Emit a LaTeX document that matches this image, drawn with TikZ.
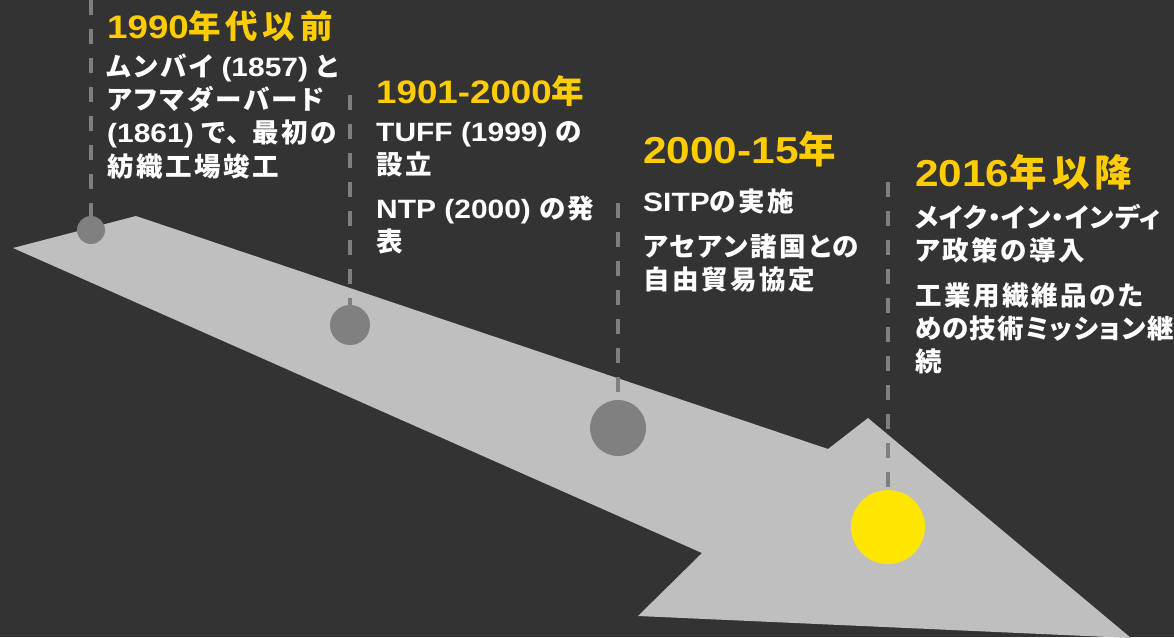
\documentclass[tikz,border=0pt]{standalone}
\usepackage{fontspec}
\newfontfamily\jpfont{Noto Sans CJK JP}[RawFeature=+palt, LetterSpace=9.5]
\newfontfamily\latfont{Liberation Sans}[FakeStretch=1.13]
\newcommand\LatRun[1]{{\latfont#1}}
\newcommand\FullW[1]{{\addfontfeature{RawFeature=-palt}#1}}
\newcommand\Tight[2]{{\addfontfeature{LetterSpace=#1}#2}}
\definecolor{bgc}{HTML}{333333}
\definecolor{arrowc}{HTML}{BFBFBF}
\definecolor{dotgray}{HTML}{808080}
\definecolor{dotyellow}{HTML}{FFE600}
\definecolor{ttlyellow}{HTML}{FFCC00}
\definecolor{dashgray}{HTML}{7F7F7F}
\tikzset{
  ttl/.style={anchor=base west, inner sep=0pt, text=ttlyellow,
    font=\jpfont\bfseries\addfontfeature{LetterSpace=14}\fontsize{32.5}{36}\selectfont},
  bigttl/.style={ttl, font=\jpfont\bfseries\addfontfeature{LetterSpace=14}\fontsize{37.5}{42}\selectfont},
  body/.style={anchor=base west, inner sep=0pt, text=white,
    font=\jpfont\bfseries\fontsize{26.5}{30}\selectfont},
  dashline/.style={draw=dashgray, line width=3.2pt, dash pattern=on 15pt off 14pt},
  dot/.style={circle, inner sep=0pt, draw=none, fill=dotgray}
}
\begin{document}
\begin{tikzpicture}[x=1pt,y=-1pt]
\fill[bgc] (0,0) rectangle (1174,637);
\useasboundingbox (0,0) rectangle (1174,637);
% arrow
\fill[arrowc] (13,248) -- (136,216) -- (828,449) -- (868,418) -- (1131,638)
  -- (638,616) -- (702,553) -- cycle;
% milestones
\node[dot, minimum size=28pt] (c1) at (91,230) {};
\node[dot, minimum size=40pt] (c2) at (350,325) {};
\node[dot, minimum size=56pt] (c3) at (618,428) {};
\node[dot, minimum size=74pt, fill=dotyellow] (c4) at (888,527) {};
% dashed leaders
\coordinate (d1) at (91,0);
\coordinate (d2) at (350,95);
\coordinate (d3) at (618,203);
\coordinate (d4) at (888,182);
\draw[dashline] (d1) -- (c1.north);
\draw[dashline] (d2) -- (c2.north);
\draw[dashline] (d3) -- (c3.north);
\draw[dashline] (d4) -- (c4.north);
% group 1
\node[ttl] (t1) at (107,38) {\LatRun{1990}年代以前};
\node[body] (b1a) at (107,76) {ムンバイ\LatRun{ (1857) }と};
\node[body] (b1b) at (107,109) {アフマダーバード};
\node[body] (b1c) at (107,142) {\LatRun{(1861) }で\FullW{、}最初の};
\node[body] (b1d) at (107,176) {紡織工場竣工};
% group 2
\node[ttl] (t2) at (376,103) {\LatRun{1901-2000}年};
\node[body] (b2a) at (376,141) {\LatRun{TUFF (1999) }の};
\node[body] (b2b) at (376,174) {設立};
\node[body] (b2c) at (376,218) {\LatRun{NTP (2000) }の発};
\node[body] (b2d) at (376,251) {表};
% group 3
\node[bigttl] (t3) at (643,163) {\LatRun{2000-15}年};
\node[body] (b3a) at (643,211) {\LatRun{SITP}の実施};
\node[body] (b3b) at (643,256) {アセアン諸国との};
\node[body] (b3c) at (643,289) {自由貿易協定};
% group 4
\node[bigttl] (t4) at (915,186) {\LatRun{2016}年以降};
\node[body] (b4a) at (915,227) {\Tight{3}{メイク・イン・インディ}};
\node[body] (b4b) at (915,260) {ア政策の導入};
\node[body] (b4c) at (915,305) {工業用繊維品のた};
\node[body] (b4d) at (915,338) {\Tight{4.5}{めの技術ミッション継}};
\node[body] (b4e) at (915,371) {続};
\end{tikzpicture}
\end{document}
